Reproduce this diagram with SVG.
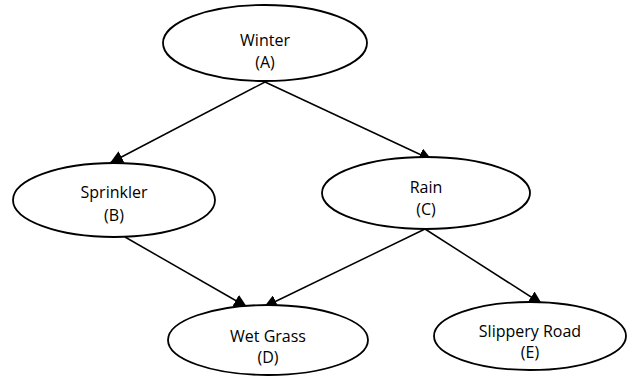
<svg xmlns="http://www.w3.org/2000/svg" width="629" height="376" viewBox="0 0 629 376">
<style>
.node ellipse{fill:#fff;stroke:#000;stroke-width:1.8}
.node text{font-family:"Open Sans","Liberation Sans",sans-serif;font-size:16px;fill:#000;text-anchor:middle}
.edges line{stroke:#000;stroke-width:1.5;marker-end:url(#arr)}
</style>
<defs>
<marker id="arr" viewBox="0 0 10 10" refX="10" refY="5" markerWidth="13" markerHeight="13" markerUnits="userSpaceOnUse" orient="auto">
<path d="M0,0 L10,5 L0,10 z" fill="#000"/>
</marker>
</defs>
<rect width="629" height="376" fill="#fff"/>
<g class="edges">
<line x1="265" y1="82" x2="110" y2="163"/>
<line x1="265" y1="82" x2="432" y2="160"/>
<line x1="125" y1="237" x2="247" y2="307"/>
<line x1="425" y1="229" x2="264" y2="307"/>
<line x1="425" y1="229" x2="542" y2="304"/>
</g>
<g id="A" class="node"><ellipse cx="265" cy="43" rx="102" ry="38"/><text x="265" y="46">Winter</text><text x="265" y="68">(A)</text></g>
<g id="B" class="node"><ellipse cx="114" cy="200" rx="101" ry="37"/><text x="114" y="198">Sprinkler</text><text x="114" y="221">(B)</text></g>
<g id="C" class="node"><ellipse cx="426" cy="193" rx="104" ry="36"/><text x="426" y="193">Rain</text><text x="426" y="215">(C)</text></g>
<g id="D" class="node"><ellipse cx="268" cy="340" rx="100" ry="35"/><text x="268" y="342">Wet Grass</text><text x="268" y="363">(D)</text></g>
<g id="E" class="node"><ellipse cx="530" cy="336" rx="96" ry="34"/><text x="530" y="337">Slippery Road</text><text x="530" y="358">(E)</text></g>
</svg>
